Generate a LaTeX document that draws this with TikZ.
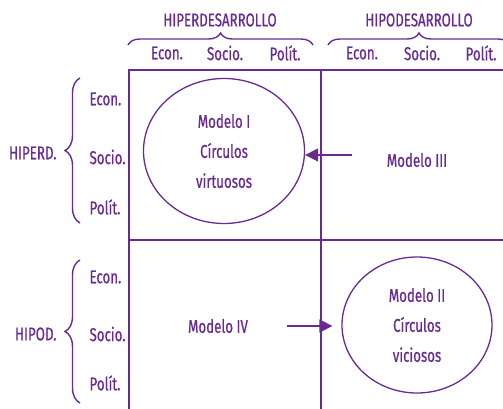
\documentclass[tikz,border=0pt]{standalone}
\usepackage{fontspec}
\setmainfont[FakeStretch=0.72, FakeBold=0.7]{Fira Sans}
\usetikzlibrary{arrows.meta}
\usetikzlibrary{shapes.geometric}
\usetikzlibrary{decorations.pathreplacing}
\usetikzlibrary{positioning}
\definecolor{morado}{RGB}{104,44,145}

\begin{document}
\begin{tikzpicture}[
        x=1pt, y=-1pt, % Unidades en puntos, eje y hacia abajo
        font=\fontsize{18.5}{30}\selectfont, % Fuente de las etiquetas
        every node/.style={text=morado},
        linea/.style={draw=morado, line width=1.6pt}, % Líneas de la cuadrícula
        modelo/.style={ellipse, draw=morado, line width=1.3pt, align=center, inner sep=0pt}, % Óvalos
        llave/.style={draw=morado, line width=1.4pt, decorate,
        decoration={brace, amplitude=12pt}}, % Llaves
        flecha/.style={draw=morado, line width=1.4pt,
        -{Triangle[length=13pt, width=13pt]}}, % Flechas
    ]
        \useasboundingbox (0,0) rectangle (503,409);

        % --- Cuadrícula ---
        \draw[linea] (129,409) -- (129,70) -- (503,70);
        \draw[linea] (321,70) -- (321,409);
        \draw[linea] (129,240) -- (503,240);

        % --- Encabezado superior ---
        \node (hiper) at (220,20) {HIPERDESARROLLO};
        \node (hipo) at (419,20) {HIPODESARROLLO};
        \draw[llave] (128,45) -- (313,45);
        \draw[llave] (328,45) -- (510,45);
        \node (ec1) at (167,53) {Econ.};
        \node (so1) at (225,53) {Socio.};
        \node (po1) at (285,53) {Polít.};
        \node (ec2) at (362,53) {Econ.};
        \node (so2) at (422,53) {Socio.};
        \node (po2) at (481,53) {Polít.};

        % --- Encabezado lateral ---
        \node[anchor=east] (hiperd) at (60,153) {HIPERD.};
        \node[anchor=east] (hipod) at (60,334) {HIPOD.};
        \draw[llave, decoration={amplitude=15pt}] (80,223) -- (80,78);
        \draw[llave, decoration={amplitude=15pt}] (80,403) -- (80,260);
        \node[anchor=west] (ec3) at (86,99) {Econ.};
        \node[anchor=west] (so3) at (86,157) {Socio.};
        \node[anchor=west] (po3) at (86,207) {Polít.};
        \node[anchor=west] (ec4) at (86,277) {Econ.};
        \node[anchor=west] (so4) at (86,334) {Socio.};
        \node[anchor=west] (po4) at (86,383) {Polít.};

        % --- Modelos ---
        \node[modelo, minimum width=161pt, minimum height=145pt] (m1) at (224,151)
            {Modelo I\\Círculos\\virtuosos};
        \node[modelo, minimum width=150pt, minimum height=136pt] (m2) at (417,325)
            {Modelo II\\Círculos\\viciosos};
        \node (m3) at (417,160) {Modelo III};
        \node (m4) at (218,326) {Modelo IV};

        % --- Flechas ---
        \coordinate (a3) at (352,155);
        \coordinate (a4) at (287,326);
        \draw[flecha] (a3) -- (a3 -| m1.east);
        \draw[flecha, shorten >=9pt] (a4) -- (a4 -| m2.west);

    \end{tikzpicture}
\end{document}
